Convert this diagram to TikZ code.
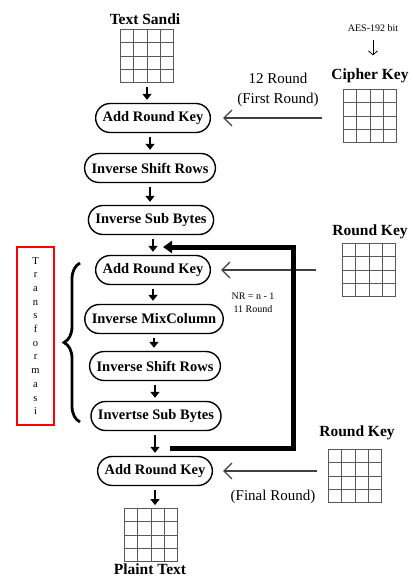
\documentclass[tikz,border=0pt]{standalone}
\usepackage{fontspec}
\setmainfont{Liberation Serif}
\usetikzlibrary{arrows.meta,calc,decorations.pathreplacing}

\begin{document}
\begin{tikzpicture}[x=1pt,y=-1pt,
  proc/.style={draw,line width=1.4pt,rounded corners=14.5pt,minimum height=29pt,inner xsep=7pt,font=\fontsize{14.5}{16}\selectfont\bfseries},
  ttl/.style={font=\fontsize{15.5}{17}\selectfont\bfseries},
  lbl/.style={font=\fontsize{15}{20}\selectfont,align=center},
  small/.style={font=\fontsize{10}{13}\selectfont,align=center},
  down/.style={line width=2.8pt,-{Triangle[length=6pt,width=9pt]},shorten <=4pt,shorten >=3pt},
  keyin/.style={line width=1.2pt,draw=black!75,-{Straight Barb[length=8pt,width=16pt]}},
  keygrid/.style={draw=black!65,line width=0.9pt,minimum size=53pt,inner sep=0pt,
    path picture={\foreach \i in {1,2,3}{
      \draw[black!65,line width=0.9pt] ($(path picture bounding box.north west)!\i/4!(path picture bounding box.north east)$) -- ($(path picture bounding box.south west)!\i/4!(path picture bounding box.south east)$);
      \draw[black!65,line width=0.9pt] ($(path picture bounding box.north west)!\i/4!(path picture bounding box.south west)$) -- ($(path picture bounding box.north east)!\i/4!(path picture bounding box.south east)$);}}}]
\useasboundingbox (0,0) rectangle (412,577);

% main column
\node[ttl] (tsandi) at (145,19) {Text Sandi};
\node[keygrid] (tsgrid) at (147,56) {};
\node[proc] (ark1) at (153,118) {Add Round Key};
\node[proc] (isr1) at (150,168) {Inverse Shift Rows};
\node[proc] (isb1) at (151,220) {Inverse Sub Bytes};
\node[proc] (ark2) at (153,270) {Add Round Key};
\node[proc] (imc) at (154,319) {Inverse MixColumn};
\node[proc] (isr2) at (155,366) {Inverse Shift Rows};
\node[proc] (isb2) at (156,416) {Invertse Sub Bytes};
\node[proc] (ark3) at (155,471) {Add Round Key};
\node[keygrid] (ptgrid) at (151,535) {};
\node[ttl] (plain) at (150,569) {Plaint Text};

\draw[down] (tsgrid.south) -- (tsgrid.south |- ark1.north);
\draw[down] (ark1.south -| isr1) -- (isr1.north);
\draw[down] (isr1.south) -- (isr1.south |- isb1.north);
\draw[down] (isb1.south -| ark2) -- (ark2.north);
\draw[down] (ark2.south) -- (ark2.south |- imc.north);
\draw[down] (imc.south) -- (imc.south |- isr2.north);
\draw[down] (isr2.south) -- (isr2.south |- isb2.north);
\draw[down] (isb2.south -| ark3) -- (ark3.north);
\draw[down] (ark3.south) -- (ark3.south |- ptgrid.north);

% keys
\node[small] (aes) at (373,28) {AES-192 bit};
\node[ttl] (ckey) at (370,76) {Cipher Key};
\node[keygrid] (ckgrid) at (370,116) {};
\draw[line width=0.8pt,-{Straight Barb[length=4pt,width=9pt]},shorten <=5pt,shorten >=10pt] (aes.south) -- (aes.south |- ckey.north);
\node[lbl] (first) at (278,90) {12 Round\\(First Round)};
\draw[keyin,shorten <=21pt,shorten >=12pt] (ckgrid.west |- ark1.east) -- (ark1.east);

\node[ttl] (rkey1) at (370,232) {Round Key};
\node[keygrid] (rkgrid1) at (369,270) {};
\draw[keyin,shorten <=26pt,shorten >=10pt] (rkgrid1.west |- ark2.east) -- (ark2.east);
\node[small] (nr) at (253,303) {NR = n - 1\\11 Round};

\node[ttl] (rkey2) at (357,433) {Round Key};
\node[keygrid] (rkgrid2) at (355,476) {};
\draw[keyin,shorten <=11pt,shorten >=10pt] (rkgrid2.west |- ark3.east) -- (ark3.east);
\node[lbl] (final) at (273,497) {(Final Round)};

% loop back
\coordinate (loopfrom) at (170,448);
\coordinate (loopto) at (163,247);
\draw[line width=5pt,-{Triangle[length=9pt,width=12pt]}] (loopfrom) -- (293,448) -- (293,247) -- (loopto);

% transformasi
\node[draw=red,line width=2pt,minimum width=37pt,minimum height=178pt,align=center,
  font=\fontsize{10.5}{13.7}\selectfont] (trans) at (35.5,336) {T\\r\\a\\n\\s\\f\\o\\r\\m\\a\\s\\i};
\draw[line width=2.8pt,decorate,decoration={brace,amplitude=16pt}] (80,422) -- (80,263);
\end{tikzpicture}
\end{document}
